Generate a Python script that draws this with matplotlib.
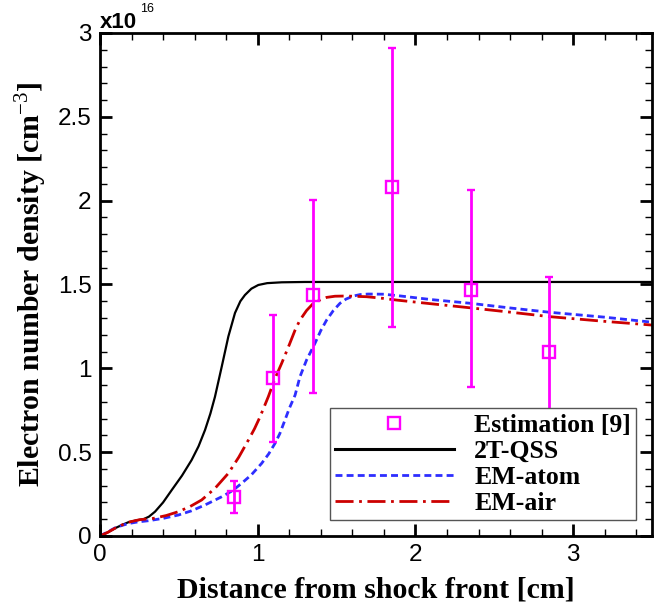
import matplotlib
matplotlib.use("Agg")
import matplotlib.pyplot as plt
from matplotlib.lines import Line2D
from matplotlib.ticker import MultipleLocator

# fonts: serif bold for labels, sans for ticks
plt.rcParams['font.family'] = ['Liberation Sans', 'DejaVu Sans']
plt.rcParams['mathtext.fontset'] = 'custom'
plt.rcParams['mathtext.rm'] = 'Liberation Serif'
plt.rcParams['lines.scale_dashes'] = False

# estimated electron density (x1e16 cm^-3) with error bar ends
est_x = [0.85, 1.1, 1.35, 1.85, 2.35, 2.85]
est_y = [0.235, 0.94, 1.435, 2.08, 1.47, 1.10]
est_lo = [0.14, 0.56, 0.855, 1.245, 0.887, 0.67]
est_hi = [0.325, 1.318, 2.005, 2.912, 2.061, 1.543]

# 2T-QSS model
qss_x = [0, 0.05, 0.095, 0.14, 0.18, 0.23, 0.275, 0.31, 0.349, 0.40, 0.455,
         0.52, 0.581, 0.625, 0.666, 0.70, 0.729, 0.772, 0.814, 0.856, 0.89,
         0.919, 0.96, 1.004, 1.06, 1.152, 1.3, 3.5]
qss_y = [0, 0.022, 0.046, 0.066, 0.082, 0.093, 0.1, 0.115, 0.145, 0.2, 0.274,
         0.36, 0.453, 0.535, 0.632, 0.73, 0.83, 1.01, 1.19, 1.33, 1.40,
         1.437, 1.475, 1.497, 1.508, 1.513, 1.515, 1.515]

# EM-atom model
atom_x = [0, 0.05, 0.095, 0.14, 0.18, 0.24, 0.307, 0.40, 0.497, 0.58, 0.666,
          0.772, 0.84, 0.898, 0.96, 1.025, 1.07, 1.11, 1.14, 1.173, 1.2, 1.237,
          1.268, 1.31, 1.363, 1.40, 1.437, 1.48, 1.522, 1.56, 1.606, 1.65, 1.70,
          1.80, 1.90, 2.10, 2.346, 2.6, 2.853, 3.2, 3.5]
atom_y = [0, 0.025, 0.048, 0.063, 0.074, 0.084, 0.091, 0.105, 0.125, 0.15, 0.185,
          0.234, 0.27, 0.314, 0.365, 0.433, 0.49, 0.553, 0.61, 0.692, 0.76, 0.84,
          0.95, 1.05, 1.149, 1.225, 1.288, 1.345, 1.388, 1.413, 1.431, 1.44, 1.443,
          1.442, 1.432, 1.41, 1.388, 1.36, 1.334, 1.305, 1.275]

# EM-air model
air_x = [0, 0.05, 0.095, 0.14, 0.18, 0.25, 0.338, 0.42, 0.497, 0.57, 0.645,
         0.73, 0.814, 0.88, 0.941, 0.98, 1.015, 1.067, 1.11, 1.152, 1.20, 1.237,
         1.268, 1.31, 1.353, 1.40, 1.437, 1.49, 1.543, 1.60, 1.691, 1.797, 1.881,
         2.1, 2.346, 2.6, 2.853, 3.2, 3.5]
air_y = [0, 0.022, 0.046, 0.066, 0.082, 0.097, 0.105, 0.122, 0.145, 0.175, 0.215,
         0.285, 0.374, 0.47, 0.572, 0.64, 0.711, 0.83, 0.94, 1.03, 1.14, 1.228,
         1.288, 1.345, 1.388, 1.41, 1.423, 1.43, 1.431, 1.43, 1.427, 1.417, 1.407,
         1.385, 1.361, 1.335, 1.308, 1.28, 1.258]

MAGENTA = '#ff00ff'
BLUE = '#2e2eff'
RED = '#cc0000'
DASH_ATOM = (0, (5, 3))
DASH_AIR = (0, (13, 4, 2, 4))

fig = plt.figure(figsize=(6.59, 6.04), dpi=100)
ax = fig.add_axes([0.1517, 0.1126, 0.8377, 0.8328])

ax.plot(qss_x, qss_y, color='black', lw=1.6)
ax.plot(atom_x, atom_y, color=BLUE, lw=2.0, linestyle=DASH_ATOM)
ax.plot(air_x, air_y, color=RED, lw=2.0, linestyle=DASH_AIR)

yerr = [[y - lo for y, lo in zip(est_y, est_lo)],
        [hi - y for y, hi in zip(est_y, est_hi)]]
ax.errorbar(est_x, est_y, yerr=yerr, fmt='s', ms=8.5, mfc='none', mec=MAGENTA,
            mew=1.7, ecolor=MAGENTA, elinewidth=2, capsize=3, capthick=2.4,
            zorder=4)

ax.set_xlim(0, 3.5)
ax.set_ylim(0, 3)
ax.xaxis.set_major_locator(MultipleLocator(1))
ax.xaxis.set_minor_locator(MultipleLocator(0.2))
ax.yaxis.set_major_locator(MultipleLocator(0.5))
ax.yaxis.set_minor_locator(MultipleLocator(0.1))
ax.tick_params(which='both', direction='in', top=True, right=True,
               labelsize=17.5, pad=6)
ax.tick_params(which='major', length=8.5, width=2)
ax.tick_params(which='minor', length=5, width=1)
for s in ax.spines.values():
    s.set_linewidth(2)

ax.yaxis.set_major_formatter(plt.FuncFormatter(lambda v, p: f'{v:g}'))
ax.xaxis.set_major_formatter(plt.FuncFormatter(lambda v, p: f'{v:g}'))

lab = dict(family='Liberation Serif', weight='bold', size=21.5)
ax.set_xlabel('Distance from shock front [cm]', labelpad=7, **lab)
ax.set_ylabel('Electron number density [cm$^{-3}$]', labelpad=6, **lab)

# exponent label above the y axis
ax.text(0.0, 1.010, 'x10', transform=ax.transAxes, ha='left', va='baseline',
        family='Liberation Sans', weight='bold', size=16)
ax.text(0.072, 1.036, '16', transform=ax.transAxes, ha='left', va='bottom',
        family='Liberation Sans', size=9)

handles = [
    Line2D([], [], linestyle='none', marker='s', ms=8.5, mfc='none',
           mec=MAGENTA, mew=1.7),
    Line2D([], [], color='black', lw=2.2),
    Line2D([], [], color=BLUE, lw=2.0, linestyle=DASH_ATOM),
    Line2D([], [], color=RED, lw=2.0, linestyle=DASH_AIR),
]
labels = ['Estimation [9]', '2T-QSS', 'EM-atom', 'EM-air']
leg = ax.legend(handles, labels, loc='lower right',
                bbox_to_anchor=(0.971, 0.032), borderaxespad=0,
                prop=dict(family='Liberation Serif', weight='bold', size=18.5),
                handlelength=4.6, handletextpad=0.8, labelspacing=0.12,
                borderpad=0.2, fancybox=False, framealpha=1, numpoints=1)
leg.get_frame().set_edgecolor('#555555')
leg.get_frame().set_linewidth(1)

fig.savefig('out.png', dpi=100)
